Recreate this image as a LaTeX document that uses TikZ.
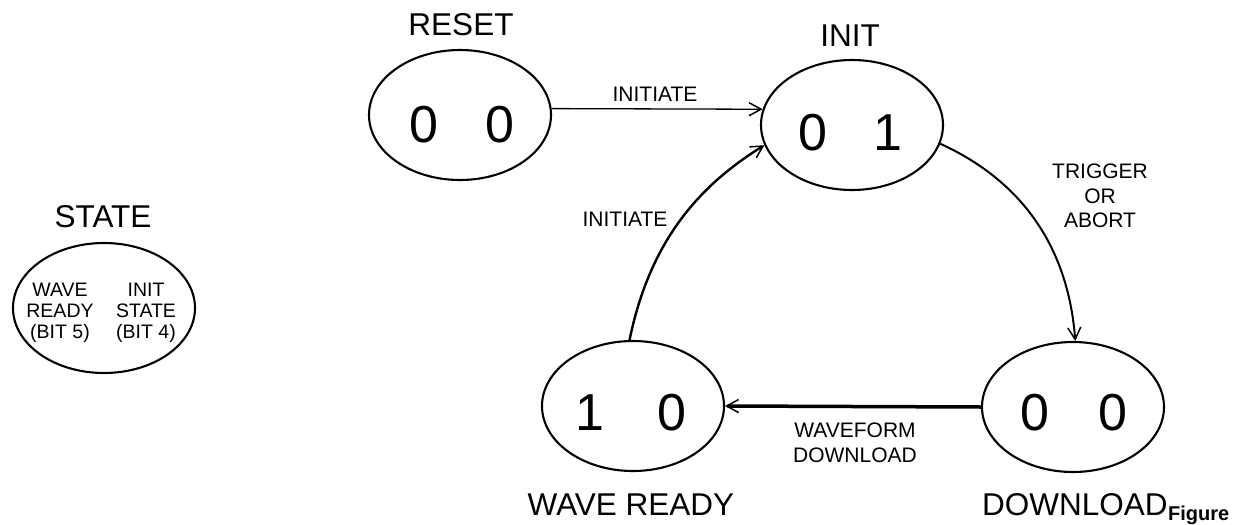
\documentclass[tikz,border=0pt]{standalone}
\usepackage{fontspec}
\setmainfont{Liberation Sans}
\usetikzlibrary{shapes.geometric,arrows.meta}
\begin{document}
\begin{tikzpicture}[x=1pt,y=-1pt,
  st/.style={draw,ellipse,line width=2.1pt,minimum width=182pt,minimum height=130pt,inner sep=0pt},
  dig/.style={font=\fontsize{52}{52}\selectfont,inner sep=0pt,anchor=base},
  big/.style={font=\fontsize{31.5}{31.5}\selectfont,inner sep=0pt,anchor=base},
  lab/.style={font=\fontsize{21}{24.5}\selectfont,inner sep=0pt,align=center},
  small/.style={font=\fontsize{19.5}{21}\selectfont,inner sep=0pt,align=center},
  tip/.style={-{Straight Barb[length=12pt,width=13pt,line width=1.5pt]}}]
\useasboundingbox (0,0) rectangle (1251,525);

% states
\node[st] (reset) at (460,115) {};
\node[st] (init) at (852,125) {};
\node[st] (wave) at (633,406) {};
\node[st] (dl) at (1073,407) {};
\node[st] (state) at (104,308) {};

% digits
\node[dig] (r0) at (424,142) {0};
\node[dig] (r1) at (500,142) {0};
\node[dig] (i0) at (813,150) {0};
\node[dig] (i1) at (888,150) {1};
\node[dig] (w0) at (590,430) {1};
\node[dig] (w1) at (672,430) {0};
\node[dig] (d0) at (1035,430) {0};
\node[dig] (d1) at (1113,430) {0};

% state legend text
\node[small] (sl) at (60,313) {WAVE\\READY\\(BIT 5)};
\node[small] (sr) at (146,313) {INIT\\STATE\\(BIT 4)};

% titles
\node[big] (tr) at (461,35) {RESET};
\node[big] (ti) at (850,46) {INIT};
\node[big] (ts) at (103,227) {STATE};
\node[big] (tw) at (631,515) {WAVE READY};
\node[big,anchor=base west] (td) at (982,515) {DOWNLOAD};
\node[font=\fontsize{20}{20}\selectfont\bfseries,inner sep=0pt,anchor=base west] (fig) at (1168,520) {Figure};

% transitions
\draw[tip,line width=1.3pt] (reset.4) -- (init.170);
\draw[tip,line width=2.4pt] (wave.93) .. controls (650,240) and (700,185) .. (init.193);
\draw[tip,line width=2pt] (init.-12) .. controls (1020,180) and (1068,245) .. (dl.88);
\draw[tip,line width=3.5pt] (dl.west) -- (wave.east);

% transition labels
\node[lab,anchor=base] (l1) at (655,101) {INITIATE};
\node[lab,anchor=base] (l2) at (625,226) {INITIATE};
\node[lab] (l3) at (1100,196) {TRIGGER\\OR\\ABORT};
\node[lab] (l4) at (855,443) {WAVEFORM\\DOWNLOAD};
\end{tikzpicture}
\end{document}
